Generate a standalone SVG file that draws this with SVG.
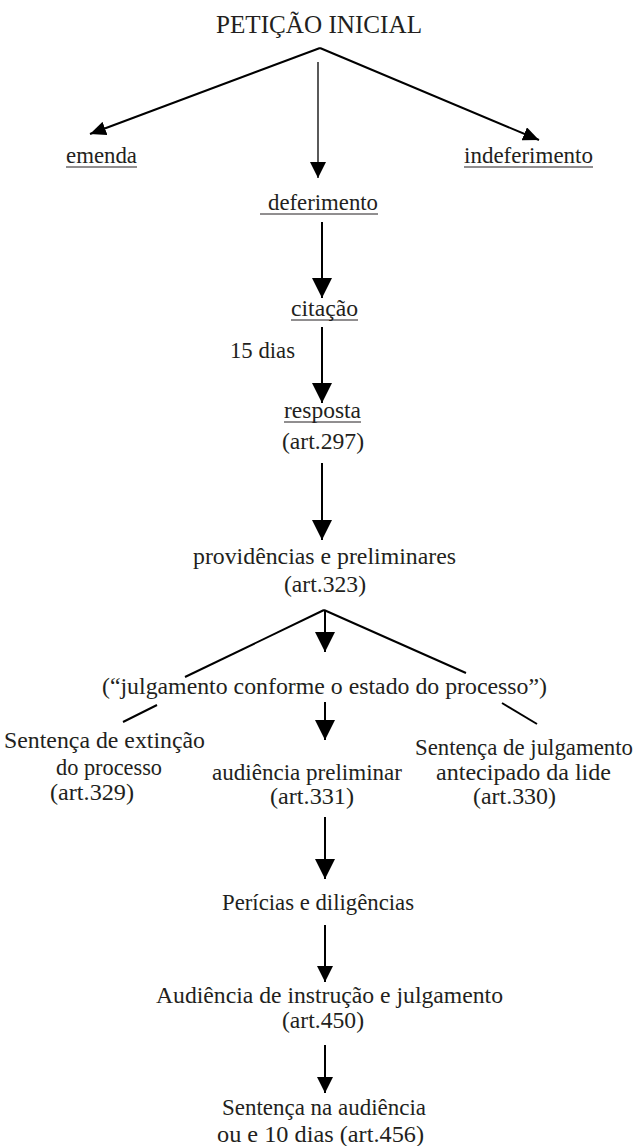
<svg xmlns="http://www.w3.org/2000/svg" width="641" height="1146" viewBox="0 0 641 1146">
<style>
text{font-family:"Liberation Serif","Times New Roman",serif;font-size:23px;fill:#231f20}
.title{font-size:25px}
.ul{stroke:#231f20;stroke-width:1}
.c{stroke:#000;stroke-width:2;fill:none}
.thin{stroke:#000;stroke-width:1.3;fill:none}
</style>
<defs>
<marker id="ahL" markerUnits="userSpaceOnUse" markerWidth="20" markerHeight="20" refX="20" refY="10" orient="auto"><path d="M0,0 L20,10 L0,20 z" fill="#000"/></marker>
<marker id="ahM" markerUnits="userSpaceOnUse" markerWidth="16" markerHeight="16" refX="16" refY="8" orient="auto"><path d="M0,0 L16,8 L0,16 z" fill="#000"/></marker>
<marker id="ahS" markerUnits="userSpaceOnUse" markerWidth="16" markerHeight="14" refX="16" refY="7" orient="auto"><path d="M0,0 L16,7 L0,14 z" fill="#000"/></marker>
</defs>
<g id="connectors">
<line class="c" x1="320" y1="48" x2="90" y2="134" marker-end="url(#ahS)"/>
<line class="c" x1="320" y1="48" x2="539" y2="140" marker-end="url(#ahS)"/>
<line class="thin" x1="318" y1="62" x2="318" y2="178" marker-end="url(#ahM)"/>
<line class="c" x1="322" y1="222" x2="322" y2="298" marker-end="url(#ahL)"/>
<line class="c" x1="322" y1="327" x2="322" y2="403" marker-end="url(#ahL)"/>
<line class="c" x1="322" y1="463" x2="322" y2="540" marker-end="url(#ahL)"/>
<line class="c" x1="324" y1="610" x2="185" y2="677"/>
<line class="c" x1="324" y1="610" x2="466" y2="673"/>
<line class="c" x1="325" y1="610" x2="325" y2="652" marker-end="url(#ahL)"/>
<line class="c" x1="157" y1="705" x2="123" y2="722"/>
<line class="c" x1="325" y1="702" x2="325" y2="740" marker-end="url(#ahL)"/>
<line class="c" x1="502" y1="703" x2="537" y2="724"/>
<line class="c" x1="325" y1="817" x2="325" y2="879" marker-end="url(#ahL)"/>
<line class="c" x1="325" y1="925" x2="325" y2="982" marker-end="url(#ahM)"/>
<line class="c" x1="325" y1="1045" x2="325" y2="1093" marker-end="url(#ahM)"/>
</g>
<g id="peticao"><text class="title" x="216" y="33" textLength="206" lengthAdjust="spacingAndGlyphs">PETIÇÃO INICIAL</text></g>
<g id="emenda"><text x="66" y="163" textLength="71" lengthAdjust="spacingAndGlyphs">emenda</text><line class="ul" x1="66" y1="167" x2="137" y2="167"/></g>
<g id="indeferimento"><text x="464" y="163" textLength="129" lengthAdjust="spacingAndGlyphs">indeferimento</text><line class="ul" x1="464" y1="167" x2="593" y2="167"/></g>
<g id="deferimento"><text x="268" y="210" textLength="110" lengthAdjust="spacingAndGlyphs">deferimento</text><line class="ul" x1="260" y1="214" x2="378" y2="214"/></g>
<g id="citacao"><text x="291" y="316" textLength="67" lengthAdjust="spacingAndGlyphs">citação</text><line class="ul" x1="291" y1="320" x2="358" y2="320"/></g>
<g id="prazo"><text x="230" y="358" textLength="65" lengthAdjust="spacingAndGlyphs">15 dias</text></g>
<g id="resposta"><text x="284" y="418" textLength="77" lengthAdjust="spacingAndGlyphs">resposta</text><line class="ul" x1="284" y1="422" x2="361" y2="422"/><text x="282" y="449" textLength="82" lengthAdjust="spacingAndGlyphs">(art.297)</text></g>
<g id="providencias"><text x="193" y="564" textLength="263" lengthAdjust="spacingAndGlyphs">providências e preliminares</text><text x="284" y="592" textLength="82" lengthAdjust="spacingAndGlyphs">(art.323)</text></g>
<g id="julgamento"><text x="102" y="694" textLength="445" lengthAdjust="spacingAndGlyphs">(“julgamento conforme o estado do processo”)</text></g>
<g id="extincao"><text x="4" y="748" textLength="201" lengthAdjust="spacingAndGlyphs">Sentença de extinção</text><text x="56" y="775" textLength="106" lengthAdjust="spacingAndGlyphs">do processo</text><text x="50" y="800" textLength="84" lengthAdjust="spacingAndGlyphs">(art.329)</text></g>
<g id="audiencia-preliminar"><text x="212" y="780" textLength="190" lengthAdjust="spacingAndGlyphs">audiência preliminar</text><text x="270" y="804" textLength="84" lengthAdjust="spacingAndGlyphs">(art.331)</text></g>
<g id="julgamento-antecipado"><text x="415" y="755" textLength="218" lengthAdjust="spacingAndGlyphs">Sentença de julgamento</text><text x="436" y="780" textLength="175" lengthAdjust="spacingAndGlyphs">antecipado da lide</text><text x="473" y="804" textLength="83" lengthAdjust="spacingAndGlyphs">(art.330)</text></g>
<g id="pericias"><text x="222" y="910" textLength="192" lengthAdjust="spacingAndGlyphs">Perícias e diligências</text></g>
<g id="audiencia-instrucao"><text x="156" y="1003" textLength="347" lengthAdjust="spacingAndGlyphs">Audiência de instrução e julgamento</text><text x="282" y="1028" textLength="82" lengthAdjust="spacingAndGlyphs">(art.450)</text></g>
<g id="sentenca"><text x="222" y="1115" textLength="204" lengthAdjust="spacingAndGlyphs">Sentença na audiência</text><text x="217" y="1142" textLength="207" lengthAdjust="spacingAndGlyphs">ou e 10 dias (art.456)</text></g>
</svg>
